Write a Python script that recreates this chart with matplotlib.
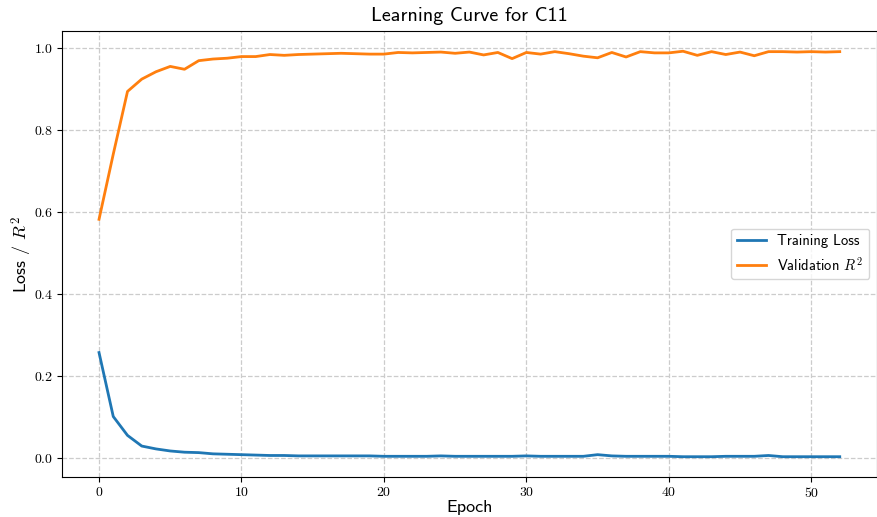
import matplotlib
matplotlib.use("Agg")
import matplotlib.pyplot as plt

plt.rcParams["font.family"] = "cmr10"
plt.rcParams["mathtext.fontset"] = "cm"
plt.rcParams["axes.formatter.use_mathtext"] = True

epochs = list(range(53))

train_loss = [0.256, 0.100, 0.054, 0.028, 0.021, 0.016, 0.013, 0.012, 0.009, 0.008,
              0.007, 0.006, 0.005, 0.005, 0.004, 0.004, 0.004, 0.004, 0.004, 0.004,
              0.003, 0.003, 0.003, 0.003, 0.004, 0.003, 0.003, 0.003, 0.003, 0.003,
              0.004, 0.003, 0.003, 0.003, 0.003, 0.007, 0.004, 0.003, 0.003, 0.003,
              0.003, 0.002, 0.002, 0.002, 0.003, 0.003, 0.003, 0.005, 0.002, 0.002,
              0.002, 0.002, 0.002]

val_r2 = [0.581, 0.740, 0.893, 0.923, 0.941, 0.954, 0.947, 0.968, 0.972, 0.974,
          0.978, 0.978, 0.983, 0.981, 0.983, 0.984, 0.985, 0.986, 0.985, 0.984,
          0.984, 0.988, 0.987, 0.988, 0.989, 0.986, 0.989, 0.982, 0.988, 0.973,
          0.988, 0.984, 0.990, 0.985, 0.979, 0.975, 0.988, 0.977, 0.990, 0.987,
          0.987, 0.991, 0.981, 0.990, 0.983, 0.989, 0.980, 0.990, 0.990, 0.989,
          0.990, 0.989, 0.990]

fig = plt.figure(figsize=(8.78, 5.17), dpi=100)
ax = fig.add_axes([0.0706, 0.0774, 0.928, 0.8627])

ax.plot(epochs, train_loss, color="#1f77b4", linewidth=2, label="Training Loss")
ax.plot(epochs, val_r2, color="#ff7f0e", linewidth=2, label="Validation $R^2$")

ax.set_title("Learning Curve for C11", fontfamily="cmss10", fontsize=14.5, pad=7)
ax.set_xlabel("Epoch", fontfamily="cmss10", fontsize=13, labelpad=0)
ax.set_ylabel("Loss / $R^2$", fontfamily="cmss10", fontsize=13, labelpad=0)
ax.tick_params(labelsize=10, pad=3)
ax.grid(True, linestyle="--", color="#cccccc", linewidth=0.9)
ax.legend(loc="center right", prop={"family": "cmss10", "size": 10.5})

fig.savefig("out.png", dpi=100)
